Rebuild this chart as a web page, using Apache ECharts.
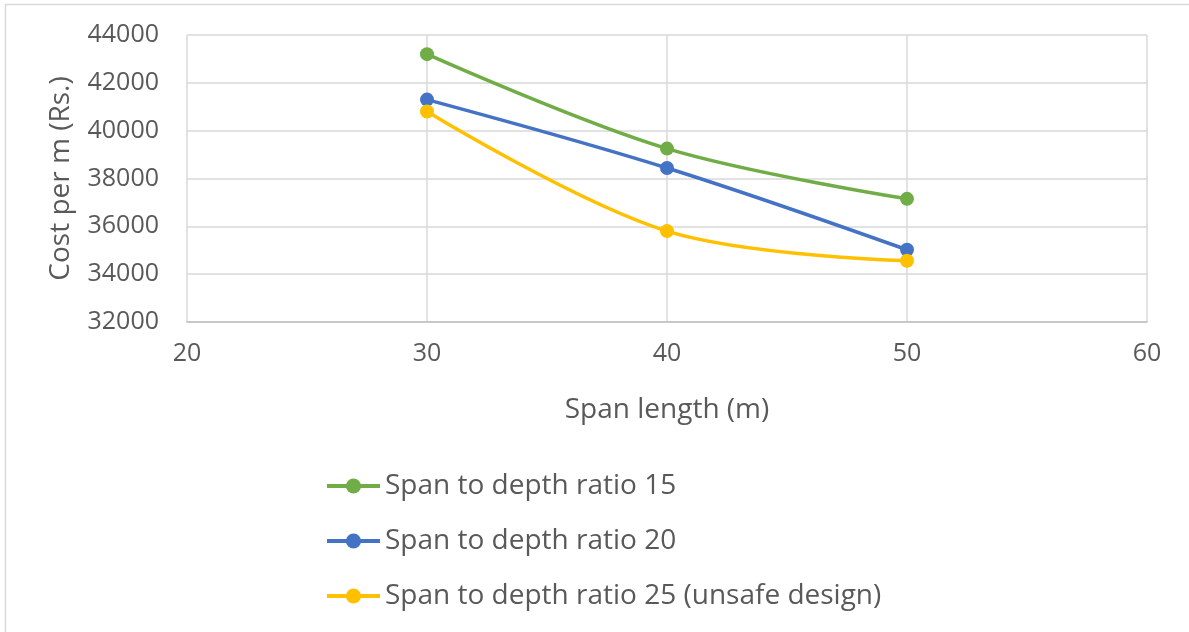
<!DOCTYPE html>
<html>
<head>
<meta charset="utf-8">
<script src="https://cdn.jsdelivr.net/npm/echarts@6/dist/echarts.min.js"></script>
<style>
  html, body { margin: 0; padding: 0; background: #fff; }
  #chart { width: 1189px; height: 632px; }
</style>
</head>
<body>
<div id="chart"></div>
<script>
// Span lengths (m) on the x axis
const spans = [30, 40, 50];
// Cost per metre (Rs.) for each span-to-depth ratio
const ratio15 = [43200, 39250, 37150];
const ratio20 = [41300, 38440, 35020];
const ratio25 = [40800, 35800, 34560];
const seriesNames = [
  'Span to depth ratio 15',
  'Span to depth ratio 20',
  'Span to depth ratio 25 (unsafe design)'
];
const seriesColors = ['#70AD47', '#4472C4', '#FFC000'];

const textColor = '#595959';
const fontFamily = '"Open Sans", "Liberation Sans", sans-serif';

function pairs(values) {
  return spans.map((s, i) => [s, values[i]]);
}

function lineSeries(name, values, color) {
  return {
    name: name,
    type: 'line',
    data: pairs(values),
    smooth: 0.35,
    symbol: 'circle',
    symbolSize: 14,
    lineStyle: { width: 3.5, color: color },
    itemStyle: { color: color },
    emphasis: { disabled: true }
  };
}

const chart = echarts.init(document.getElementById('chart'), null, { renderer: 'canvas' });
chart.setOption({
  animation: false,
  backgroundColor: '#ffffff',
  textStyle: { fontFamily: fontFamily, color: textColor },
  graphic: [{
    type: 'rect',
    shape: { x: 5.5, y: 4.5, width: 1300, height: 700 },
    style: { fill: 'none', stroke: '#D9D9D9', lineWidth: 1.5 },
    silent: true
  }],
  grid: { left: 187, right: 42, top: 35, bottom: 310 },
  xAxis: {
    type: 'value',
    min: 20, max: 60, interval: 10,
    name: 'Span length (m)',
    nameLocation: 'middle',
    nameGap: 74,
    nameTextStyle: { fontSize: 28, color: textColor, fontFamily: fontFamily },
    axisLine: { show: true, lineStyle: { color: '#BFBFBF', width: 1.5 } },
    axisTick: { show: false },
    axisLabel: { fontSize: 25, color: textColor, margin: 19, fontFamily: fontFamily },
    splitLine: { show: true, lineStyle: { color: '#D9D9D9', width: 1.5 } }
  },
  yAxis: {
    type: 'value',
    min: 32000, max: 44000, interval: 2000,
    name: 'Cost per m (Rs.)',
    nameLocation: 'middle',
    nameGap: 112,
    nameTextStyle: { fontSize: 28, color: textColor, fontFamily: fontFamily },
    axisLine: { show: false },
    axisTick: { show: false },
    axisLabel: {
      fontSize: 25, color: textColor, margin: 28, fontFamily: fontFamily,
      formatter: (v) => String(v)
    },
    splitLine: { show: true, lineStyle: { color: '#D9D9D9', width: 1.5 } }
  },
  legend: {
    orient: 'vertical',
    left: 320,
    top: 465,
    itemGap: 23,
    itemWidth: 53,
    itemHeight: 19,
    data: seriesNames,
    lineStyle: { width: 4 },
    textStyle: { fontSize: 28, lineHeight: 32, color: textColor, fontFamily: fontFamily }
  },
  series: [
    lineSeries(seriesNames[0], ratio15, seriesColors[0]),
    lineSeries(seriesNames[1], ratio20, seriesColors[1]),
    lineSeries(seriesNames[2], ratio25, seriesColors[2])
  ]
});
</script>
</body>
</html>
